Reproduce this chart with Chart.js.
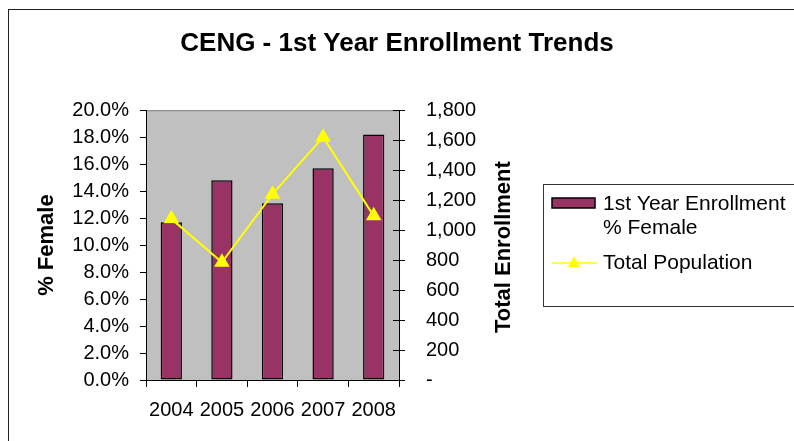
<!DOCTYPE html>
<html>
<head>
<meta charset="utf-8">
<script src="https://cdn.jsdelivr.net/npm/chart.js@4/dist/chart.umd.min.js"></script>
<style>
  html, body { margin: 0; padding: 0; background: #fff; }
  #wrap { width: 794px; height: 441px; }
</style>
</head>
<body>
<div id="wrap"><canvas id="myChart" width="794" height="441"></canvas></div>
<script>
'use strict';

// data
const years = ['2004', '2005', '2006', '2007', '2008'];
const pctFemale = [11.7, 14.8, 13.1, 15.7, 18.2];
const totalPopulation = [1075, 785, 1240, 1620, 1095];
const barLabel = '1st Year Enrollment % Female';
const lineLabel = 'Total Population';
const chartTitle = 'CENG - 1st Year Enrollment Trends';
const leftTitle = '% Female';
const rightTitle = 'Total Enrollment';

const FONT = "'Liberation Sans', Arial, sans-serif";
const plum = '#993366';
const yellow = '#ffff00';

// grey plot area, outer frame, right axis title, inner ticks and legend
const decor = {
  id: 'decor',
  beforeDraw(chart) {
    const {ctx, chartArea: a} = chart;
    ctx.save();
    ctx.fillStyle = '#fff';
    ctx.fillRect(0, 0, chart.width, chart.height);
    ctx.strokeStyle = '#222';
    ctx.lineWidth = 1;
    ctx.strokeRect(8.5, 9.5, 900, 600);
    ctx.fillStyle = '#c0c0c0';
    ctx.fillRect(a.left, a.top, a.right - a.left, a.bottom - a.top);
    ctx.strokeStyle = '#808080';
    ctx.strokeRect(a.left + 0.5, a.top + 0.5, a.right - a.left, a.bottom - a.top);
    ctx.restore();
  },
  afterDraw(chart) {
    const {ctx, chartArea: a} = chart;
    const y1 = chart.scales.y1;
    ctx.save();
    // right axis ticks cross the axis line
    ctx.strokeStyle = '#000';
    ctx.lineWidth = 1;
    y1.ticks.forEach((t, i) => {
      const py = Math.round(y1.getPixelForTick(i)) + 0.5;
      ctx.beginPath();
      ctx.moveTo(a.right - 6, py);
      ctx.lineTo(a.right, py);
      ctx.stroke();
    });

    // right axis title, reading bottom to top
    ctx.fillStyle = '#000';
    ctx.font = 'bold 22px ' + FONT;
    ctx.textAlign = 'center';
    ctx.textBaseline = 'middle';
    ctx.translate(a.right + 105, (a.top + a.bottom) / 2 + 2);
    ctx.rotate(-Math.PI / 2);
    ctx.fillText(rightTitle, 0, 0);
    ctx.restore();

    // legend
    ctx.save();
    const bx = 543, by = 184;
    ctx.strokeStyle = '#333';
    ctx.lineWidth = 1;
    ctx.strokeRect(bx + 0.5, by + 0.5, 400, 122);
    ctx.font = '21px ' + FONT;
    ctx.fillStyle = '#000';
    ctx.textAlign = 'left';
    ctx.textBaseline = 'middle';
    const tx = 603;
    // wrap the bar label to fit
    const words = chart.data.datasets[1].label.split(' ');
    const lines = [];
    let cur = '';
    words.forEach(w => {
      const test = cur ? cur + ' ' + w : w;
      if (ctx.measureText(test).width > 195 && cur) { lines.push(cur); cur = w; }
      else cur = test;
    });
    lines.push(cur);
    lines.forEach((l, i) => ctx.fillText(l, tx, 204 + i * 24));
    ctx.fillStyle = plum;
    ctx.fillRect(552, 198, 43, 10);
    ctx.strokeStyle = '#000';
    ctx.lineWidth = 1.5;
    ctx.strokeRect(552, 198, 43, 10);
    // line item
    const ly = 204 + lines.length * 24 + 11;
    ctx.strokeStyle = yellow;
    ctx.lineWidth = 1.5;
    ctx.beginPath();
    ctx.moveTo(552, ly);
    ctx.lineTo(597, ly);
    ctx.stroke();
    ctx.fillStyle = yellow;
    ctx.beginPath();
    ctx.moveTo(574, ly - 7);
    ctx.lineTo(580, ly + 4);
    ctx.lineTo(568, ly + 4);
    ctx.closePath();
    ctx.fill();
    ctx.fillStyle = '#000';
    ctx.fillText(chart.data.datasets[0].label, tx, ly);
    ctx.restore();
  }
};

Chart.defaults.font.family = FONT;
Chart.defaults.color = '#000';

new Chart(document.getElementById('myChart'), {
  data: {
    labels: years,
    datasets: [{
      type: 'line',
      label: lineLabel,
      data: totalPopulation,
      yAxisID: 'y1',
      borderColor: yellow,
      backgroundColor: yellow,
      borderWidth: 2,
      pointStyle: 'triangle',
      pointRadius: 7,
      pointBackgroundColor: yellow,
      pointBorderColor: yellow,
      tension: 0,
      order: 0,
    }, {
      type: 'bar',
      label: barLabel,
      data: pctFemale,
      yAxisID: 'y',
      backgroundColor: plum,
      borderColor: '#000',
      borderWidth: 1.5,
      borderSkipped: false,
      barPercentage: 0.42,
      categoryPercentage: 1,
      order: 1,
    }]
  },
  options: {
    responsive: false,
    animation: false,
    layout: { padding: 0 },
    plugins: {
      legend: { display: false },
      tooltip: { enabled: false },
      title: {
        display: true,
        text: chartTitle,
        font: { size: 26, weight: 'bold' },
        color: '#000',
        padding: { top: 28, bottom: 51 },
      },
    },
    scales: {
      x: {
        grid: { offset: true, drawOnChartArea: false, tickLength: 7, color: '#000' },
        border: { color: '#000' },
        ticks: { font: { size: 20 }, padding: 11, maxRotation: 0, autoSkip: false },
        afterFit(scale) { scale.height = 61; },
      },
      y: {
        position: 'left',
        min: 0,
        max: 20,
        grid: { drawOnChartArea: false, tickLength: 6, color: '#000' },
        border: { color: '#000' },
        ticks: {
          stepSize: 2,
          autoSkip: false,
          font: { size: 20 },
          padding: 11,
          callback: v => v.toFixed(1) + '%',
        },
        title: {
          display: true,
          text: leftTitle,
          font: { size: 22, weight: 'bold' },
          padding: { top: 34, bottom: 0 },
        },
        afterFit(scale) { scale.width = 146; },
      },
      y1: {
        position: 'right',
        min: 0,
        max: 1800,
        grid: { drawOnChartArea: false, tickLength: 6, color: '#000' },
        border: { color: '#000' },
        ticks: {
          stepSize: 200,
          autoSkip: false,
          font: { size: 20 },
          padding: 21,
          callback: v => v === 0 ? '-' : v.toLocaleString('en-US'),
        },
        afterFit(scale) { scale.width = 395; },
      },
    },
  },
  plugins: [decor],
});
</script>
</body>
</html>
